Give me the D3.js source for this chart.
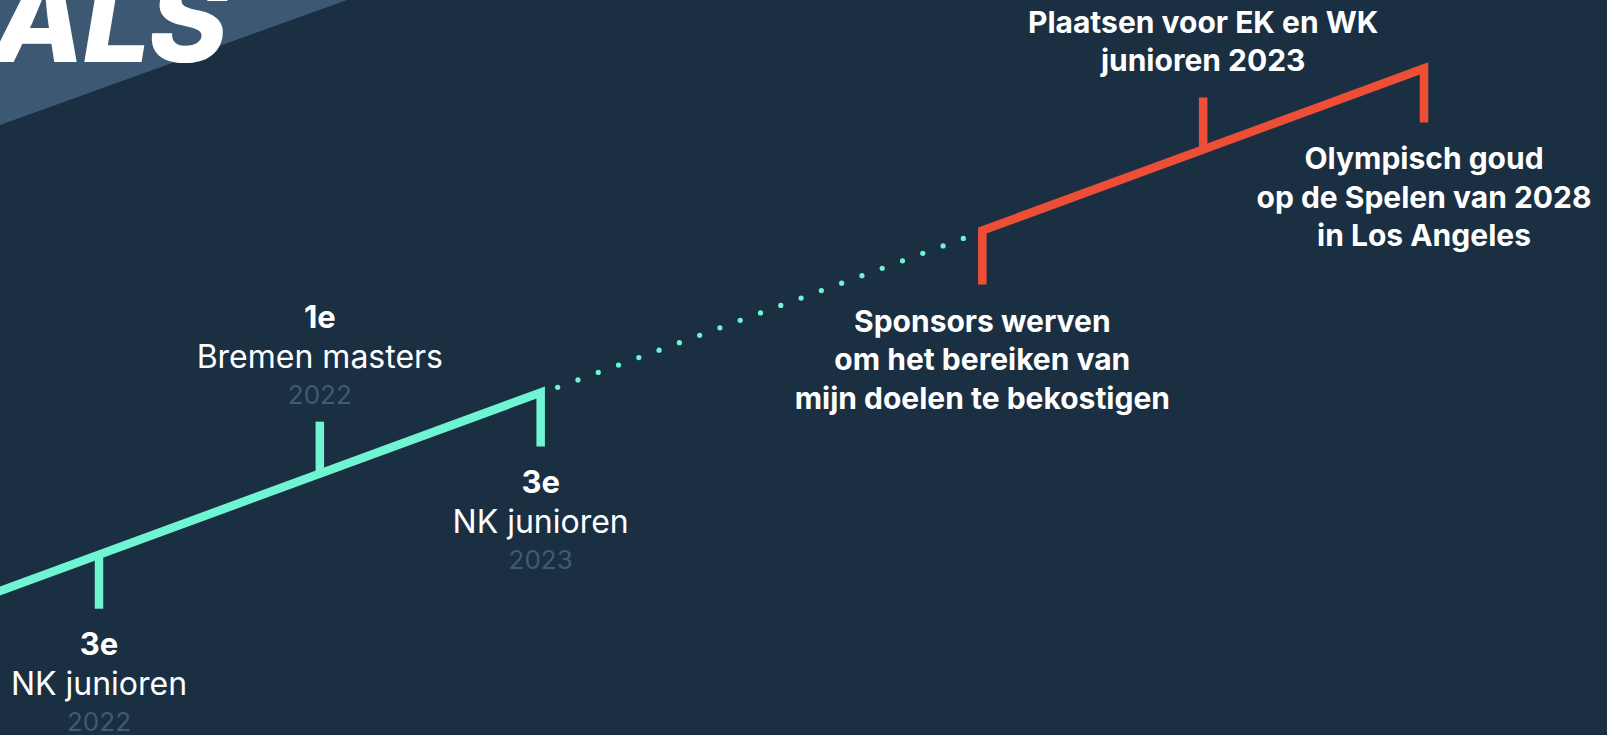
<!DOCTYPE html>
<html>
<head>
<meta charset="utf-8">
<script src="https://cdn.jsdelivr.net/npm/d3@7"></script>
<style>
  html, body { margin: 0; padding: 0; background: #1b2f43; overflow: hidden; }
  svg { display: block; }
</style>
</head>
<body>
<script>
// results already achieved (green part of the timeline)
const resultStep = [0, 1, 2];
const resultRank = ["3e", "1e", "3e"];
const resultEvent = ["NK junioren", "Bremen masters", "NK junioren"];
const resultYear = ["2022", "2022", "2023"];
const resultSide = ["below", "above", "below"];

// goals (red part of the timeline)
const goalStep = [4, 5, 6];
const goalText = [
  ["Sponsors werven", "om het bereiken van", "mijn doelen te bekostigen"],
  ["Plaatsen voor EK en WK", "junioren 2023"],
  ["Olympisch goud", "op de Spelen van 2028", "in Los Angeles"]
];
const goalSide = ["below", "above", "below"];

const width = 1607, height = 735;
const green = "#6ff5d1", red = "#ef4e36", dim = "#3f5a73";
const tickLen = 54;

const x = d3.scaleLinear().domain([0, 6]).range([99, 1424]);
const y = d3.scaleLinear().domain([0, 6]).range([554.7, 68.4]);

const svg = d3.select("body").append("svg")
  .attr("width", width)
  .attr("height", height)
  .attr("font-family", "Inter, 'Noto Sans', sans-serif");

svg.append("rect").attr("width", width).attr("height", height).attr("fill", "#1b2f43");

// header corner
svg.append("path")
  .attr("d", "M0,0L347,0L0,125Z")
  .attr("fill", "#3d5872");

svg.append("text")
  .attr("x", 226)
  .attr("y", 62)
  .attr("text-anchor", "end")
  .attr("fill", "#fff")
  .attr("font-size", 120)
  .attr("font-weight", 800)
  .attr("font-style", "italic")
  .attr("letter-spacing", -2)
  .text("ALS");

const line = d3.line().x(d => d[0]).y(d => d[1]);
const onLine = s => [x(s), y(s)];

// green segment
svg.append("path")
  .attr("d", line([onLine(-0.5), onLine(2), [x(2), y(2) + tickLen]]))
  .attr("fill", "none")
  .attr("stroke", green)
  .attr("stroke-width", 8.5)
  .attr("stroke-linejoin", "miter");

// dotted bridge
const dots = d3.range(21).map(i => 2.077 + i * (3.914 - 2.077) / 20);
svg.append("g").selectAll("circle")
  .data(dots)
  .join("circle")
  .attr("cx", d => x(d))
  .attr("cy", d => y(d) + 1)
  .attr("r", 2.6)
  .attr("fill", green);

// red segment
svg.append("path")
  .attr("d", line([[x(4), y(4) + tickLen], onLine(4), onLine(6), [x(6), y(6) + tickLen]]))
  .attr("fill", "none")
  .attr("stroke", red)
  .attr("stroke-width", 8.5)
  .attr("stroke-linejoin", "miter");

// middle ticks
const midTicks = [
  { s: resultStep[0], side: resultSide[0], c: green },
  { s: resultStep[1], side: resultSide[1], c: green },
  { s: goalStep[1], side: goalSide[1], c: red }
];
svg.append("g").selectAll("line")
  .data(midTicks)
  .join("line")
  .attr("x1", d => x(d.s)).attr("x2", d => x(d.s))
  .attr("y1", d => y(d.s))
  .attr("y2", d => y(d.s) + (d.side === "below" ? tickLen : -tickLen + 2))
  .attr("stroke", d => d.c)
  .attr("stroke-width", 8.5);

// result labels
resultStep.forEach((s, i) => {
  const base = resultSide[i] === "below" ? y(s) + 100 : y(s) - 145.5;
  const g = svg.append("g").attr("text-anchor", "middle").attr("transform", `translate(${x(s)},0)`);
  g.append("text").attr("y", base).attr("fill", "#fff")
    .attr("font-size", 31).attr("font-weight", 700).text(resultRank[i]);
  g.append("text").attr("y", base + 40).attr("fill", "#fff")
    .attr("font-size", 32).attr("font-weight", 400).text(resultEvent[i]);
  g.append("text").attr("y", base + 76).attr("fill", dim)
    .attr("font-size", 26).attr("font-weight", 400).text(resultYear[i]);
});

// goal labels
goalStep.forEach((s, i) => {
  const lines = goalText[i];
  const base = goalSide[i] === "below" ? y(s) + 101 : y(s) - 116.6;
  svg.append("g").attr("text-anchor", "middle")
    .selectAll("text")
    .data(lines)
    .join("text")
    .attr("x", x(s))
    .attr("y", (d, j) => base + j * 38.5)
    .attr("fill", "#fff")
    .attr("font-size", 30)
    .attr("font-weight", 700)
    .text(d => d);
});
</script>
</body>
</html>
